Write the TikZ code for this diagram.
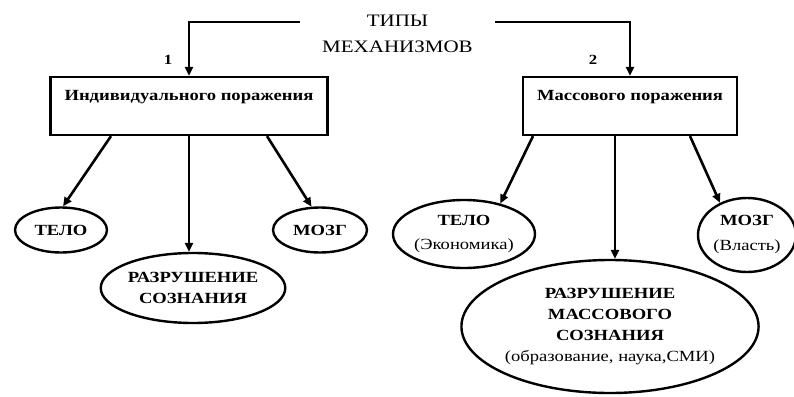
\documentclass[tikz,border=0pt]{standalone}
\usepackage{fontspec}
\setmainfont{Liberation Serif}[FakeStretch=1.2]
\usetikzlibrary{arrows.meta,shapes.geometric}
\begin{document}
\begin{tikzpicture}[x=1pt,y=-1pt,
  arr/.style={line width=2.6pt,-{Triangle[length=9pt,width=8pt]}},
  box/.style={draw,line width=2.2pt,rectangle,inner sep=0pt,minimum height=58pt,
    text height=10pt,text depth=22pt,font=\fontsize{15.5}{17}\selectfont\bfseries},
  oval/.style={draw,line width=2.4pt,ellipse,inner sep=0pt,align=center,
    font=\fontsize{15.5}{21}\selectfont\bfseries},
  num/.style={font=\fontsize{14}{16}\selectfont\bfseries},
  ttl/.style={align=center,minimum width=195pt,inner sep=0pt,
    font=\fontsize{17.5}{26}\selectfont}]
\useasboundingbox (0,0) rectangle (794,396);
\fill[white] (0,0) rectangle (794,396);

\node[ttl] (title) at (397.5,34) {ТИПЫ\\МЕХАНИЗМОВ};
\node[num] (n1) at (168,60) {1};
\node[num] (n2) at (593,60) {2};

\node[box,minimum width=277pt] (lbox) at (189,106) {Индивидуального поражения};
\node[box,minimum width=214pt] (rbox) at (630,106) {Массового поражения};

\node[oval,minimum width=92pt,minimum height=45pt] (ltelo) at (61,230) {ТЕЛО};
\node[oval,minimum width=94pt,minimum height=45pt] (lmozg) at (320,230) {МОЗГ};
\node[oval,minimum width=182pt,minimum height=70pt] (lsoz) at (193,288) {РАЗРУШЕНИЕ\\СОЗНАНИЯ};

\node[oval,minimum width=142pt,minimum height=68pt,font=\fontsize{15.5}{24}\selectfont\bfseries] (rtelo) at (464,234) {ТЕЛО\\{\mdseries (Экономика)}};
\node[oval,minimum width=98pt,minimum height=74pt,font=\fontsize{15.5}{25}\selectfont\bfseries] (rmozg) at (747,235) {МОЗГ\\{\mdseries (Власть)}};
\node[oval,minimum width=255pt,minimum height=133pt] (rsoz) at (610,326.5)
  {РАЗРУШЕНИЕ\\МАССОВОГО\\СОЗНАНИЯ\\{\mdseries (образование, наука,СМИ)}};

\draw[arr] ([yshift=12pt]title.west) -| (lbox.north);
\draw[arr] ([yshift=12pt]title.east) -| (rbox.north);

\coordinate (lm) at (lbox.south);
\draw[arr] ([xshift=-78pt]lbox.south) -- (ltelo.85);
\draw[arr] (lm) -- (lm |- lsoz.north);
\draw[arr] ([xshift=78pt]lbox.south) -- (lmozg.110);

\coordinate (rm) at ([xshift=-15pt]rbox.south);
\draw[arr] ([xshift=-97pt]rbox.south) -- (rtelo.40);
\draw[arr] (rm) -- (rm |- rsoz.north);
\draw[arr] ([xshift=60pt]rbox.south) -- (rmozg.130);
\end{tikzpicture}
\end{document}
